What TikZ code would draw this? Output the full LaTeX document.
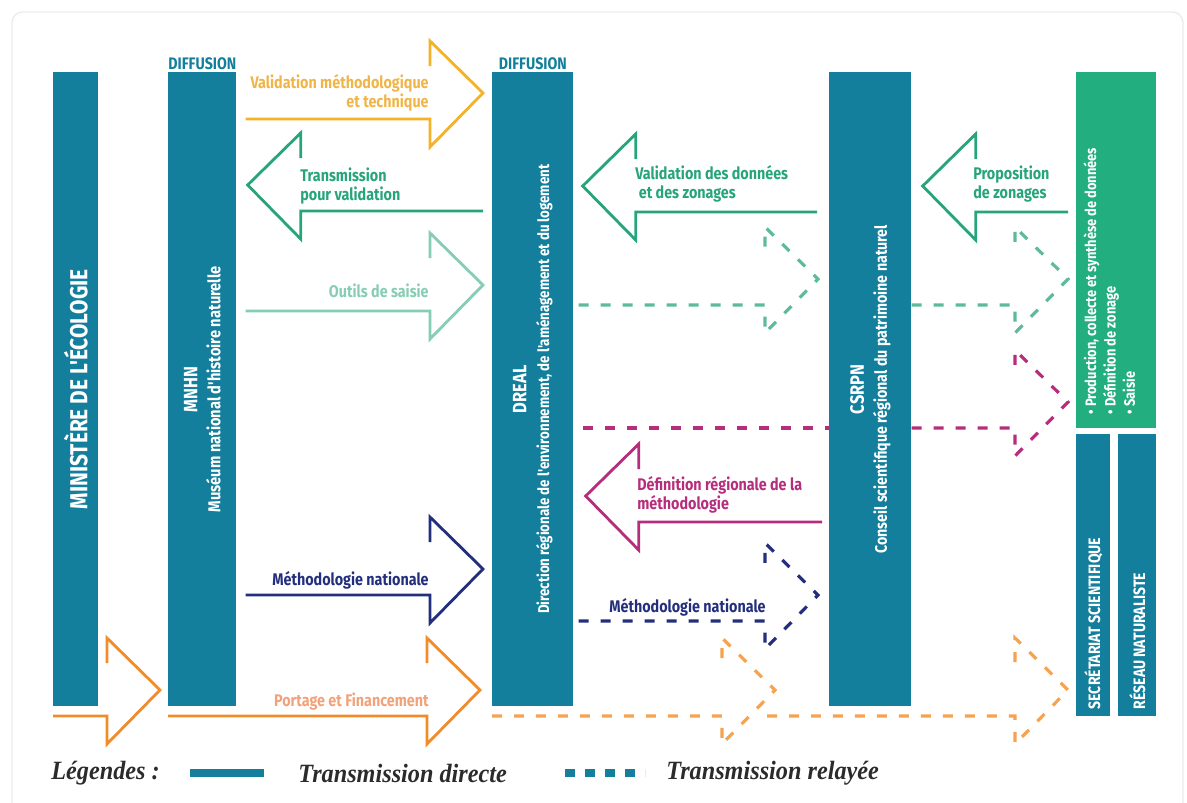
\documentclass[tikz,border=0pt]{standalone}
\usepackage{fontspec}
\setmainfont{Fira Sans}
\newfontfamily\etroite[FakeStretch=0.85]{Fira Sans}
\newfontfamily\legendefont[FakeStretch=0.92]{Liberation Serif}
\usetikzlibrary{calc}

\definecolor{bleu}{HTML}{137F9C}
\definecolor{vertbloc}{HTML}{22AE7F}
\definecolor{jaune}{HTML}{F5B228}
\definecolor{jaunetxt}{HTML}{F0B548}
\definecolor{vert}{HTML}{27A47C}
\definecolor{vertclair}{HTML}{86CDB3}
\definecolor{vertdash}{HTML}{5DBB98}
\definecolor{marine}{HTML}{232F7C}
\definecolor{framboise}{HTML}{B52D7C}
\definecolor{orangef}{HTML}{F28C2A}
\definecolor{orangetxt}{HTML}{F2A27A}
\definecolor{orangedash}{HTML}{F6A24E}
\definecolor{encre}{HTML}{2B2B2B}

\tikzset{
  barre/.style={fill=bleu, inner sep=0pt, anchor=north west},
  titre/.style={text=white, rotate=90, align=center, inner sep=0pt,
    font=\etroite\bfseries\fontsize{9.5}{13}\selectfont},
  diffusion/.style={text=bleu, anchor=south, inner sep=1pt,
    font=\etroite\bfseries\fontsize{9.5}{10}\selectfont},
  fleche/.style={line width=1.6pt},
  relais/.style={line width=1.8pt, dash pattern=on 0.2cm off 0.24cm},
  etiquette/.style={inner sep=0pt, font=\etroite\bfseries\fontsize{9.6}{11}\selectfont},
  legende/.style={inner sep=0pt, text=encre, anchor=west,
    font=\legendefont\bfseries\itshape\fontsize{15}{17}\selectfont},
}

% open block arrows: tail, tip, height of the lower edge of the shaft
\newcommand{\flecheD}[4][]{%
  \draw[#1] let \p1=(#2), \p2=(#3), \p3=(0,#4) in
    (\x1,\y3) -- (\x2-1.06cm,\y3) -- (\x2-1.06cm,\y3-0.56cm) -- (\x2,\y3+0.52cm)
    -- (\x2-1.06cm,\y3+1.56cm) -- (\x2-1.06cm,\y3+1.06cm);}
\newcommand{\flecheG}[4][]{%
  \draw[#1] let \p1=(#2), \p2=(#3), \p3=(0,#4) in
    (\x1,\y3) -- (\x2+1.06cm,\y3) -- (\x2+1.06cm,\y3-0.56cm) -- (\x2,\y3+0.52cm)
    -- (\x2+1.06cm,\y3+1.56cm) -- (\x2+1.06cm,\y3+1.06cm);}

\begin{document}
\begin{tikzpicture}[x=0.02cm, y=-0.02cm]
\useasboundingbox (0,0) rectangle (1187,802);

% frame
\draw[gray!15, line width=0.8pt, rounded corners=6pt] (12,812) -- (12,12) -- (1183,12) -- (1183,812);

% Columns
\node[barre, minimum width=0.9cm, minimum height=12.68cm] (mini) at (53,72) {};
\node[barre, minimum width=1.36cm, minimum height=12.68cm] (mnhn) at (168,72) {};
\node[barre, minimum width=1.62cm, minimum height=12.68cm] (dreal) at (492,72) {};
\node[barre, minimum width=1.64cm, minimum height=12.68cm] (csrpn) at (829,72) {};
\node[barre, fill=vertbloc, minimum width=1.6cm, minimum height=7.12cm] (prod) at (1076,72) {};
\node[barre, minimum width=0.68cm, minimum height=5.64cm] (secr) at (1076,434) {};
\node[barre, minimum width=0.76cm, minimum height=5.64cm] (reseau) at (1118,434) {};

\node[titre, font=\etroite\bfseries\fontsize{14}{16}\selectfont] (mini-t) at (mini) {MINISTÈRE DE L'ÉCOLOGIE};
\node[titre, font=\etroite\bfseries\fontsize{9.8}{13}\selectfont] (mnhn-t) at (mnhn) {{\fontsize{11}{12}\selectfont MNHN}\\Muséum national d'histoire naturelle};
\node[titre, font=\etroite\bfseries\fontsize{8.9}{13}\selectfont] (dreal-t) at (dreal) {{\fontsize{11}{12}\selectfont DREAL}\\Direction régionale de l'environnement, de l'aménagement et du logement};
\node[titre] (csrpn-t) at (csrpn) {{\fontsize{11}{12}\selectfont CSRPN}\\Conseil scientifique régional du patrimoine naturel};
\node[titre, align=left, anchor=west, font=\etroite\bfseries\fontsize{8.6}{11}\selectfont]
  (prod-t) at ([shift={(-4pt,8pt)}]prod.south) {• Production, collecte et synthèse de données\\• Définition de zonage\\• Saisie};
\node[titre, anchor=west, font=\etroite\bfseries\fontsize{9.4}{10}\selectfont] (secr-t) at ([yshift=4pt]secr.south) {SECRÉTARIAT SCIENTIFIQUE};
\node[titre, anchor=west, font=\etroite\bfseries\fontsize{9.4}{10}\selectfont] (reseau-t) at ([yshift=4pt]reseau.south) {RÉSEAU NATURALISTE};

\node[diffusion] (diff1) at (mnhn.north) {DIFFUSION};
\node[diffusion] (diff2) at (dreal.north) {DIFFUSION};

% Direct transmissions
\flecheD[fleche, jaune]{$(mnhn.east)+(9,0)$}{$(dreal.west)+(-9,0)$}{119}
\flecheG[fleche, vert]{$(dreal.west)+(-9,0)$}{$(mnhn.east)+(11,0)$}{211}
\flecheD[fleche, vertclair]{$(mnhn.east)+(9,0)$}{$(dreal.west)+(-9,0)$}{311}
\flecheD[fleche, marine]{$(mnhn.east)+(9,0)$}{$(dreal.west)+(-9,0)$}{595}
\flecheD[fleche, orangef]{mnhn.west}{$(dreal.west)+(-12,0)$}{716}
\flecheD[fleche, orangef]{mini.west}{$(mnhn.west)+(-8,0)$}{716}
\flecheG[fleche, vert]{$(csrpn.west)+(-12,0)$}{$(dreal.east)+(9,0)$}{212}
\flecheG[fleche, vert]{$(prod.west)+(-8,0)$}{$(csrpn.east)+(11,0)$}{212}
\flecheG[fleche, framboise]{$(csrpn.west)+(-7,0)$}{$(dreal.east)+(12,0)$}{522}

% Relayed transmissions
\flecheD[relais, vertdash]{$(dreal.east)+(5,0)$}{$(csrpn.west)+(-11,0)$}{305}
\flecheD[relais, vertdash]{csrpn.east}{$(prod.west)+(-8,0)$}{305}
\draw[relais, framboise] let \p1=(dreal.east), \p2=(csrpn.west), \p3=(0,428) in
  (\x1+0.18cm,\y3) -- (\x2,\y3);
\flecheD[relais, framboise]{csrpn.east}{$(prod.west)+(-8,0)$}{428}
\flecheD[relais, marine]{$(dreal.east)+(5,0)$}{$(csrpn.west)+(-11,0)$}{621}
\flecheD[relais, orangedash]{dreal.west}{$(csrpn.west)+(-54,0)$}{716}
\flecheD[relais, orangedash]{$(csrpn.west)+(-62,0)$}{$(secr.west)+(-8,0)$}{716}

% Labels
\node[etiquette, text=jaunetxt, align=right, anchor=east] (t-valid) at (429,93) {Validation méthodologique\\et technique};
\node[etiquette, text=vert, align=left, anchor=west] (t-transm) at (300,186) {Transmission\\pour validation};
\node[etiquette, text=vertclair, anchor=east] (t-outils) at (429,291) {Outils de saisie};
\node[etiquette, text=marine, anchor=east] (t-metho) at (429,580) {Méthodologie nationale};
\node[etiquette, text=orangetxt, anchor=east] (t-portage) at (429,702) {Portage et Financement};
\node[etiquette, text=vert, align=left, anchor=west] (t-donnees) at (635,184) {Validation des données\\\hspace{2pt}et des zonages};
\node[etiquette, text=vert, align=left, anchor=west] (t-propo) at (973,184) {Proposition\\de zonages};
\node[etiquette, text=framboise, align=left, anchor=west] (t-defin) at (637,495) {Définition régionale de la\\méthodologie};
\node[etiquette, text=marine, anchor=east] (t-metho2) at (766,607) {Méthodologie nationale};

% Legend
\node[legende] (leg) at (51,773) {Légendes :};
\node[legende] (direct) at (298,773) {Transmission directe};
\node[legende] (relayee) at (666,773) {Transmission relayée};
\draw[bleu, line width=0.16cm] ([xshift=-2.16cm]direct.west) -- ([xshift=-0.68cm]direct.west);
\draw[bleu, line width=0.16cm, dash pattern=on 0.2cm off 0.2cm] ([xshift=-2.02cm]relayee.west) -- ([xshift=-0.42cm]relayee.west);

\end{tikzpicture}
\end{document}
